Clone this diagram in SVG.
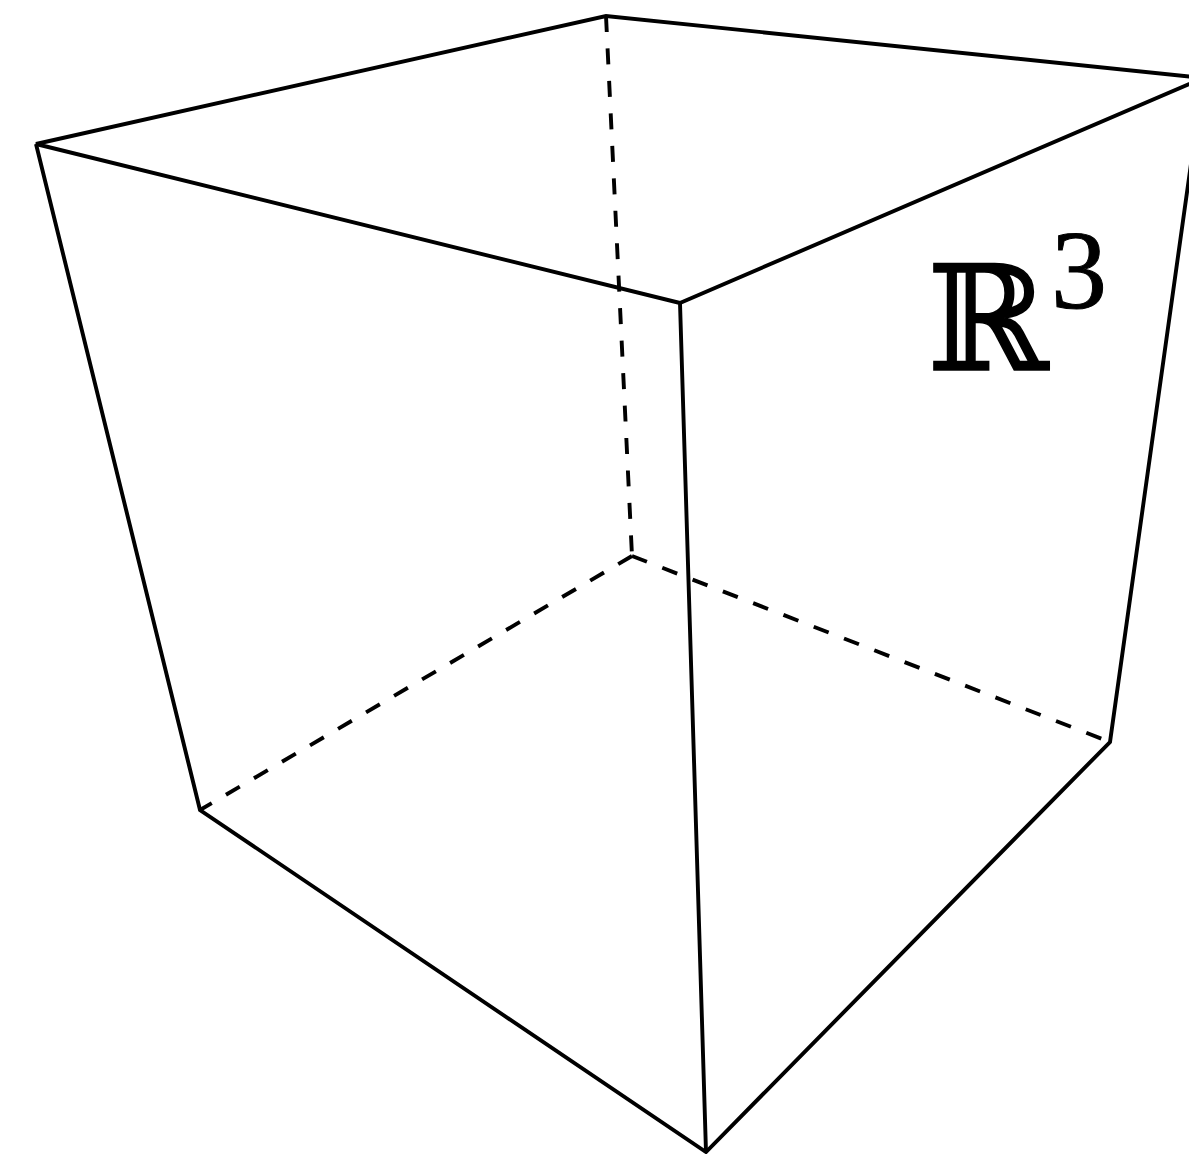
<svg xmlns="http://www.w3.org/2000/svg" width="1189" height="1154" viewBox="0 0 1189 1154">
<style>
.e{fill:none;stroke:#000;stroke-width:3.9;stroke-linejoin:miter;stroke-linecap:butt}
.h{stroke-dasharray:16 16.5}
.lbl{font-family:"DejaVu Serif","Liberation Serif",serif;fill:#000;stroke:#000;stroke-width:1.5}
.sup{font-family:"Liberation Serif","Times New Roman",serif;fill:#000;stroke:#000;stroke-width:1}
</style>
<rect width="1189" height="1154" fill="#fff"/>
<g id="connectors">
<g id="hidden-edges">
<line class="e h" x1="606" y1="16" x2="632" y2="556"/>
<line class="e h" x1="632" y1="556" x2="200" y2="810"/>
<line class="e h" x1="632" y1="556" x2="1110" y2="742"/>
</g>
<g id="visible-edges">
<polyline class="e" points="680,303 36,144 606,16 1203,78 680,303 706,1152"/>
<polyline class="e" points="36,144 200,810 706,1152 1110,742 1203,78"/>
</g>
</g>
<g id="label">
<text class="lbl" x="927" y="370" font-size="146">ℝ</text>
<text class="sup" x="1051" y="308" font-size="112">3</text>
</g>
</svg>
